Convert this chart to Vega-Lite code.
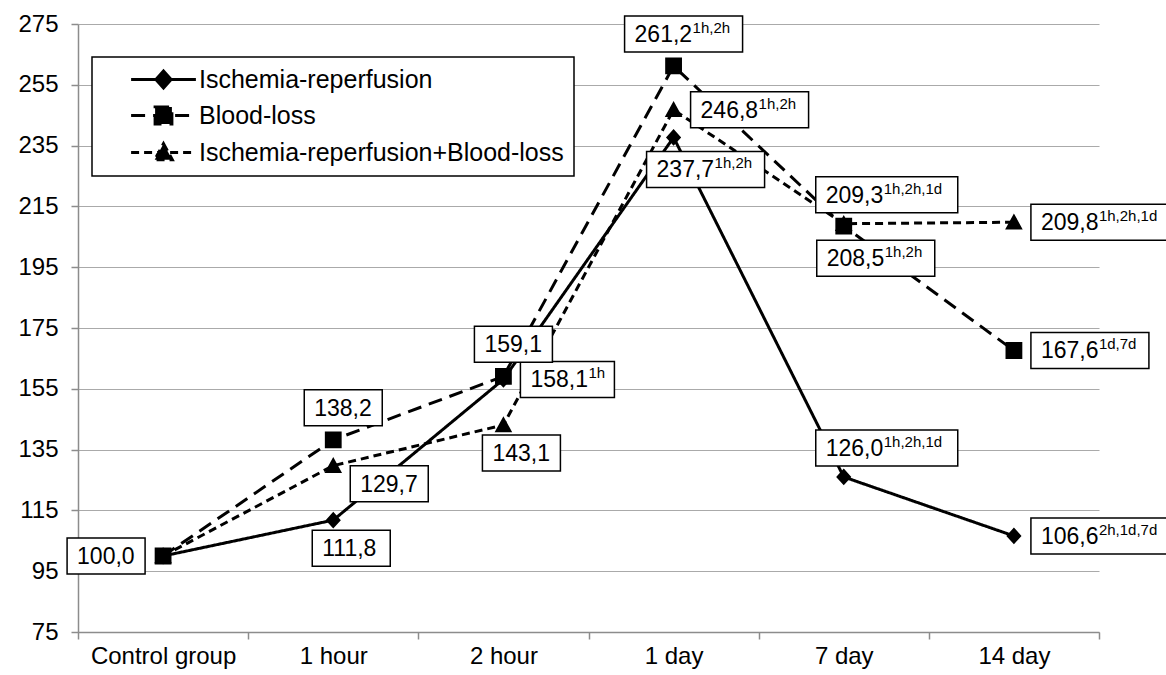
{
  "$schema": "https://vega.github.io/schema/vega-lite/v6.json",
  "width": 1021,
  "height": 608,
  "autosize": {"type": "none"},
  "padding": {"left": 78, "top": 24, "right": 67, "bottom": 43},
  "background": "white",
  "config": {
    "view": {"stroke": null},
    "font": "Liberation Sans",
    "axis": {
      "labelFont": "Liberation Sans",
      "labelFontSize": 24,
      "labelColor": "black",
      "domainColor": "#8c8c8c",
      "domainWidth": 1.5,
      "tickColor": "#8c8c8c",
      "tickWidth": 1.5,
      "tickSize": 7,
      "gridColor": "#aaaaaa",
      "gridWidth": 1.2
    },
    "legend": {
      "symbolStrokeWidth": 3,
      "symbolStrokeColor": "black",
      "symbolFillColor": "black",
      "labelLimit": 0
    }
  },
  "data": {
    "values": [
      {"series": "Ischemia-reperfusion", "t": "Control group", "v": 100.0, "text": "", "sup": "", "place": ""},
      {"series": "Ischemia-reperfusion", "t": "1 hour", "v": 111.8, "text": "111,8", "sup": "", "place": "S"},
      {"series": "Ischemia-reperfusion", "t": "2 hour", "v": 158.1, "text": "158,1", "sup": "1h", "place": "E"},
      {"series": "Ischemia-reperfusion", "t": "1 day", "v": 237.7, "text": "237,7", "sup": "1h,2h", "place": "SW"},
      {"series": "Ischemia-reperfusion", "t": "7 day", "v": 126.0, "text": "126,0", "sup": "1h,2h,1d", "place": "NW"},
      {"series": "Ischemia-reperfusion", "t": "14 day", "v": 106.6, "text": "106,6", "sup": "2h,1d,7d", "place": "E"},
      {"series": "Blood-loss", "t": "Control group", "v": 100.0, "text": "100,0", "sup": "", "place": "W"},
      {"series": "Blood-loss", "t": "1 hour", "v": 138.2, "text": "138,2", "sup": "", "place": "N"},
      {"series": "Blood-loss", "t": "2 hour", "v": 159.1, "text": "159,1", "sup": "", "place": "N"},
      {"series": "Blood-loss", "t": "1 day", "v": 261.2, "text": "261,2", "sup": "1h,2h", "place": "N"},
      {"series": "Blood-loss", "t": "7 day", "v": 208.5, "text": "208,5", "sup": "1h,2h", "place": "SW"},
      {"series": "Blood-loss", "t": "14 day", "v": 167.6, "text": "167,6", "sup": "1d,7d", "place": "E"},
      {"series": "Ischemia-reperfusion+Blood-loss", "t": "Control group", "v": 100.0, "text": "", "sup": "", "place": ""},
      {"series": "Ischemia-reperfusion+Blood-loss", "t": "1 hour", "v": 129.7, "text": "129,7", "sup": "", "place": "SE"},
      {"series": "Ischemia-reperfusion+Blood-loss", "t": "2 hour", "v": 143.1, "text": "143,1", "sup": "", "place": "S"},
      {"series": "Ischemia-reperfusion+Blood-loss", "t": "1 day", "v": 246.8, "text": "246,8", "sup": "1h,2h", "place": "E"},
      {"series": "Ischemia-reperfusion+Blood-loss", "t": "7 day", "v": 209.3, "text": "209,3", "sup": "1h,2h,1d", "place": "NW"},
      {"series": "Ischemia-reperfusion+Blood-loss", "t": "14 day", "v": 209.8, "text": "209,8", "sup": "1h,2h,1d", "place": "E"}
    ]
  },
  "encoding": {
    "x": {
      "field": "t",
      "type": "nominal",
      "bandPosition": 0.5,
      "scale": {
        "type": "band",
        "domain": ["Control group", "1 hour", "2 hour", "1 day", "7 day", "14 day"],
        "paddingInner": 0,
        "paddingOuter": 0
      },
      "axis": {"tickBand": "extent", "grid": false, "labelAngle": 0, "labelPadding": 5},
      "title": null
    },
    "y": {
      "field": "v",
      "type": "quantitative",
      "scale": {"domain": [75, 275], "nice": false, "zero": false},
      "axis": {
        "values": [75, 95, 115, 135, 155, 175, 195, 215, 235, 255, 275],
        "grid": true,
        "labelPadding": 13
      },
      "title": null
    }
  },
  "layer": [
    {
      "mark": {"type": "line", "color": "black", "strokeWidth": 3},
      "encoding": {
        "order": {"value": null},
        "strokeDash": {
          "field": "series",
          "type": "nominal",
          "scale": {
            "domain": ["Ischemia-reperfusion", "Blood-loss", "Ischemia-reperfusion+Blood-loss"],
            "range": [[1, 0], [14, 8], [8, 5]]
          },
          "legend": {
            "title": null,
            "orient": "none",
            "legendX": 14,
            "legendY": 33,
            "direction": "vertical",
            "padding": 10,
            "rowPadding": 7,
            "symbolOffset": 49,
            "labelOffset": 23,
            "symbolSize": 256,
            "symbolStrokeWidth": 3,
            "symbolStrokeColor": "black",
            "symbolFillColor": "black",
            "labelFont": "Liberation Sans",
            "labelFontSize": 25,
            "labelLimit": 0,
            "labelColor": "black",
            "strokeColor": "black",
            "fillColor": "white",
            "encode": {
              "symbols": {"update": {"strokeWidth": {"value": 3}, "stroke": {"value": "black"}, "fill": {"value": "black"}, "opacity": {"value": 1}}},
              "legend": {"update": {"strokeWidth": {"value": 1.5}}}
            }
          }
        }
      }
    },
    {
      "mark": {"type": "point", "filled": true, "color": "black", "opacity": 1, "size": 256, "strokeWidth": 0},
      "encoding": {
        "shape": {
          "field": "series",
          "type": "nominal",
          "scale": {
            "domain": ["Ischemia-reperfusion", "Blood-loss", "Ischemia-reperfusion+Blood-loss"],
            "range": [
              "M-4.05,0H4.05M0,-1.05L0.95,0L0,1.05L-0.95,0Z",
              "M-4.05,0H4.05M-1.05,-1.05H1.05V1.05H-1.05Z",
              "M-4.05,0H4.05M0,-1.1L1.1,0.9H-1.1Z"
            ]
          },
          "legend": {
            "title": null,
            "orient": "none",
            "legendX": 14,
            "legendY": 33,
            "direction": "vertical",
            "padding": 10,
            "rowPadding": 7,
            "symbolOffset": 49,
            "labelOffset": 23,
            "symbolSize": 256,
            "symbolStrokeWidth": 3,
            "symbolStrokeColor": "black",
            "symbolFillColor": "black",
            "labelFont": "Liberation Sans",
            "labelFontSize": 25,
            "labelLimit": 0,
            "labelColor": "black",
            "strokeColor": "black",
            "fillColor": "white",
            "encode": {
              "symbols": {"update": {"strokeWidth": {"value": 3}, "stroke": {"value": "black"}, "fill": {"value": "black"}, "opacity": {"value": 1}}},
              "legend": {"update": {"strokeWidth": {"value": 1.5}}}
            }
          }
        }
      }
    },
    {
      "transform": [{"filter": "datum.text != ''"}],
      "mark": {
        "type": "point",
        "size": 4,
        "filled": true,
        "color": "white",
        "stroke": "black",
        "strokeWidth": 1.5,
        "opacity": 1,
        "shape": {"expr": "'M'+(datum.place=='E'||datum.place=='SE'?17:datum.place=='W'?-96-8*length(datum.sup):datum.place=='N'?-29-4*length(datum.sup):datum.place=='S'?-21-4*length(datum.sup):datum.place=='NW'?-28:-27)+','+((datum.place=='N'?-32:datum.place=='S'?28:datum.place=='NW'?-29:datum.place=='SW'?32:datum.place=='SE'?18:0)-18)+'h'+(78+8*length(datum.sup))+'v36h'+(-78-8*length(datum.sup))+'z'"}
      }
    },
    {
      "transform": [{"filter": "datum.text != ''"}],
      "mark": {
        "type": "text",
        "align": "left",
        "baseline": "middle",
        "font": "Liberation Sans",
        "fontSize": 23,
        "color": "black",
        "dx": {"expr": "(datum.place=='E'||datum.place=='SE'?17:datum.place=='W'?-96-8*length(datum.sup):datum.place=='N'?-29-4*length(datum.sup):datum.place=='S'?-21-4*length(datum.sup):datum.place=='NW'?-28:-27)+10"},
        "dy": {"expr": "(datum.place=='N'?-32:datum.place=='S'?28:datum.place=='NW'?-29:datum.place=='SW'?32:datum.place=='SE'?18:0)+1"}
      },
      "encoding": {"text": {"field": "text"}}
    },
    {
      "transform": [{"filter": "datum.sup != ''"}],
      "mark": {
        "type": "text",
        "align": "left",
        "baseline": "middle",
        "font": "Liberation Sans",
        "fontSize": 15,
        "color": "black",
        "dx": {"expr": "(datum.place=='E'||datum.place=='SE'?17:datum.place=='W'?-96-8*length(datum.sup):datum.place=='N'?-29-4*length(datum.sup):datum.place=='S'?-21-4*length(datum.sup):datum.place=='NW'?-28:-27)+68"},
        "dy": {"expr": "(datum.place=='N'?-32:datum.place=='S'?28:datum.place=='NW'?-29:datum.place=='SW'?32:datum.place=='SE'?18:0)-6"}
      },
      "encoding": {"text": {"field": "sup"}}
    }
  ]
}
